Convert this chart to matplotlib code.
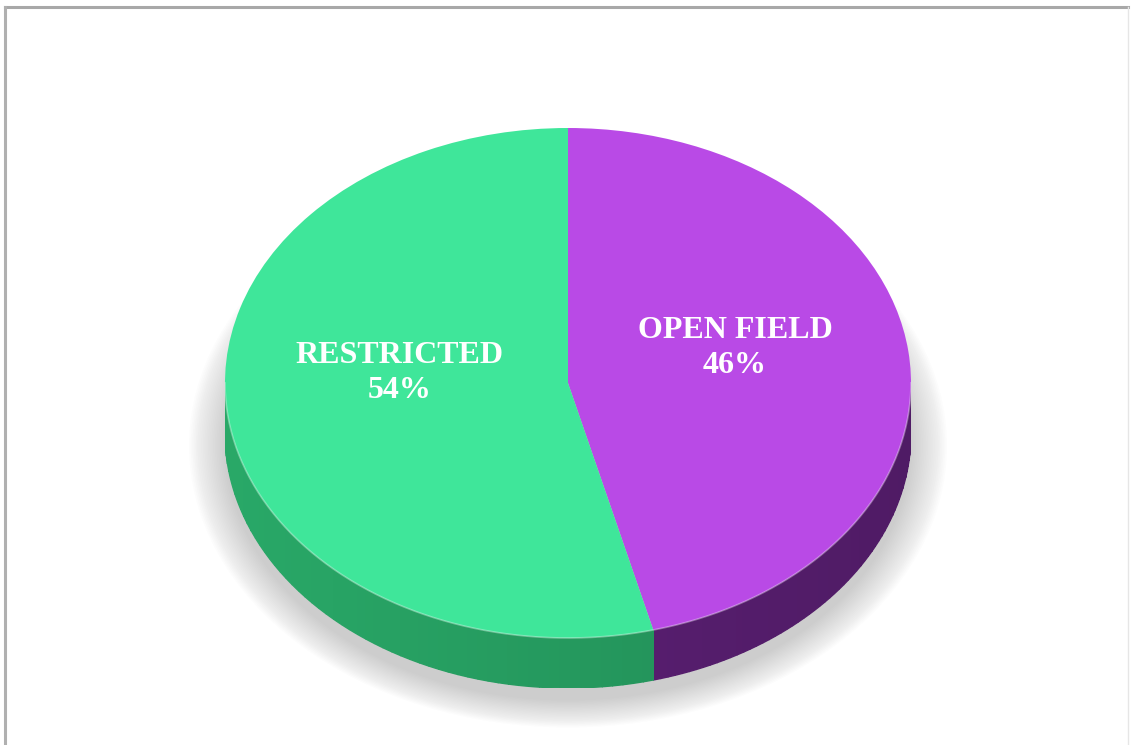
import numpy as np
import matplotlib.pyplot as plt
from matplotlib.colors import to_rgb
from matplotlib.patches import Ellipse

labels = ["OPEN FIELD", "RESTRICTED"]
shares = [46, 54]
top_colors = ["#b94ae6", "#3fe69a"]
side_colors = ["#581e70", "#25995e"]

W, H = 1131, 745
CX, CY = 568, 383        # centre of the top face (pixels)
RX, RY = 343, 255        # semi axes of the top face
DEPTH = 50               # thickness of the disc


def main():
    fig = plt.figure(figsize=(W / 100, H / 100), dpi=100)
    fig.patch.set_facecolor("white")

    # frame of the chart area
    frame = fig.add_axes([0, 0, 1, 1])
    frame.set_xlim(0, W)
    frame.set_ylim(H, 0)
    frame.axis("off")
    frame.plot([5, 1128], [7, 7], color="#a8a8a8", lw=2.2)
    frame.plot([5, 5], [7, H], color="#b0b0b0", lw=2.2)
    frame.plot([1128, 1128], [7, H], color="#e6e6e6", lw=1.0)

    # axes in pie units: x in [-1, 1] spans 2*RX px, y scaled by RY
    d = DEPTH / RY
    left = (CX - RX) / W
    width = 2 * RX / W
    bottom = (H - (CY + RY + DEPTH)) / H
    height = (2 * RY + DEPTH) / H
    ax = fig.add_axes([left, bottom, width, height])
    ax.axis("off")

    # soft drop shadow under the disc
    for i in range(22):
        grow = 0.005 * i
        ax.add_patch(Ellipse((0.0, -d - 0.05), 2.0 + 2 * grow, 2.0 + 2 * grow,
                             facecolor="#707070", edgecolor="none",
                             alpha=0.014, zorder=0, clip_on=False))

    # slice angle ranges, clockwise from 12 o'clock
    fracs = np.array(shares) / sum(shares)
    start = 90.0
    bounds = []
    for f in fracs:
        end = start - 360 * f
        bounds.append((end, start))
        start = end

    # side wall, only the visible front half (-180..0 deg)
    for (a0, a1), col in zip(bounds, side_colors):
        t0, t1 = np.radians(max(a0, -180)), np.radians(min(a1, 0))
        if t1 <= t0:
            continue
        n = 60
        edges = np.linspace(t0, t1, n + 1)
        base = np.array(to_rgb(col))
        for k in range(n):
            t = np.linspace(edges[k], edges[k + 1], 4)
            xs = np.concatenate([np.cos(t), np.cos(t[::-1])])
            ys = np.concatenate([np.sin(t), np.sin(t[::-1]) - d])
            mid = (edges[k] + edges[k + 1]) / 2
            shade = 1.0 - 0.10 * np.cos(mid)
            c = np.clip(base * shade, 0, 1)
            ax.fill(xs, ys, color=c, lw=1.0, ec=c, zorder=1)

    # top face
    ax.pie(shares, colors=top_colors, startangle=90, counterclock=False,
           radius=1.0, wedgeprops=dict(linewidth=0, zorder=2))
    ax.set_aspect("auto")
    ax.set_xlim(-1, 1)
    ax.set_ylim(-1 - d, 1)

    # light rim along the front edge of the top face
    t = np.linspace(np.pi, 2 * np.pi, 200)
    ax.plot(np.cos(t), np.sin(t), color="white", alpha=0.35, lw=1.2, zorder=3)

    text_pos = [(735, 348), (400, 373)]
    for lab, val, (px, py) in zip(labels, shares, text_pos):
        fig.text(px / W, 1 - py / H, f"{lab}\n{val}%", ha="center",
                 va="center", color="white", fontsize=23, fontweight="bold",
                 family="Liberation Serif", linespacing=1.25)

    fig.savefig("out.png", dpi=100, facecolor="white")


if __name__ == "__main__":
    main()
